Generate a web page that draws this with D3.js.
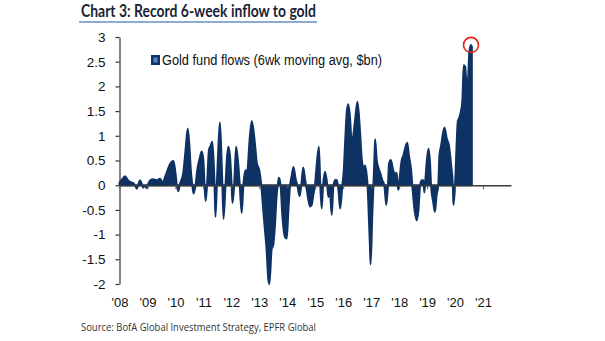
<!DOCTYPE html>
<html>
<head>
<meta charset="utf-8">
<script src="https://cdn.jsdelivr.net/npm/d3@7"></script>
<style>
  html, body { margin: 0; padding: 0; background: #fff; }
  svg { display: block; }
</style>
</head>
<body>
<svg id="chart" width="605" height="341"></svg>
<script>
// Gold fund flows, 6-week moving average ($bn), by decimal year
const years = [
  2008.00, 2008.10, 2008.20, 2008.30, 2008.40, 2008.50, 2008.58, 2008.62, 2008.67, 2008.73,
  2008.80, 2008.85, 2008.90, 2008.97, 2009.03, 2009.10, 2009.20, 2009.32, 2009.45, 2009.55,
  2009.62, 2009.75, 2009.80, 2009.93, 2010.00, 2010.05, 2010.10, 2010.15, 2010.28, 2010.36,
  2010.44, 2010.50, 2010.55, 2010.60, 2010.65, 2010.72, 2010.78, 2010.87, 2010.94, 2011.00,
  2011.04, 2011.08, 2011.13, 2011.20, 2011.26, 2011.32, 2011.38, 2011.40, 2011.43, 2011.48,
  2011.53, 2011.59, 2011.65, 2011.68, 2011.72, 2011.79, 2011.85, 2011.89, 2011.95, 2012.01,
  2012.04, 2012.10, 2012.17, 2012.25, 2012.30, 2012.37, 2012.43, 2012.50, 2012.57, 2012.65,
  2012.73, 2012.85, 2012.91, 2013.00, 2013.07, 2013.14, 2013.20, 2013.26, 2013.32, 2013.36,
  2013.44, 2013.50, 2013.56, 2013.62, 2013.66, 2013.70, 2013.76, 2013.82, 2013.92, 2013.98,
  2014.04, 2014.10, 2014.16, 2014.22, 2014.30, 2014.36, 2014.44, 2014.50, 2014.57, 2014.64,
  2014.70, 2014.81, 2014.87, 2014.93, 2014.99, 2015.05, 2015.13, 2015.18, 2015.23, 2015.28,
  2015.35, 2015.43, 2015.47, 2015.52, 2015.59, 2015.65, 2015.73, 2015.77, 2015.83, 2015.89,
  2015.97, 2016.02, 2016.07, 2016.13, 2016.18, 2016.24, 2016.30, 2016.36, 2016.42, 2016.51,
  2016.60, 2016.66, 2016.72, 2016.78, 2016.84, 2016.87, 2016.92, 2016.96, 2016.98, 2017.04,
  2017.08, 2017.12, 2017.14, 2017.20, 2017.26, 2017.32, 2017.40, 2017.47, 2017.54, 2017.60,
  2017.64, 2017.70, 2017.79, 2017.85, 2017.91, 2017.95, 2017.97, 2018.00, 2018.03, 2018.09,
  2018.15, 2018.29, 2018.35, 2018.43, 2018.47, 2018.55, 2018.63, 2018.69, 2018.75, 2018.81,
  2018.87, 2018.90, 2018.95, 2018.99, 2019.05, 2019.11, 2019.14, 2019.22, 2019.28, 2019.34,
  2019.40, 2019.44, 2019.50, 2019.62, 2019.70, 2019.78, 2019.86, 2019.92, 2019.94, 2020.00,
  2020.04, 2020.10, 2020.14, 2020.21, 2020.26, 2020.31, 2020.36, 2020.40, 2020.43, 2020.47,
  2020.51, 2020.57, 2020.60
];
const flows = [
  0.05, 0.12, 0.18, 0.10, 0.06, 0.04, -0.03, -0.07, 0.00, 0.10,
  0.02, -0.05, 0.00, -0.06, 0.03, 0.10, 0.12, 0.10, 0.13, 0.05,
  0.15, 0.35, 0.42, 0.49, 0.25, 0.00, -0.12, 0.00, 0.25, 0.70,
  1.15, 0.80, 0.30, 0.03, -0.17, 0.00, 0.30, 0.55, 0.68, 0.50,
  0.02, -0.32, 0.00, 0.72, 0.80, 0.88, 0.30, 0.00, -0.64, 0.00,
  0.70, 1.27, 0.50, 0.00, -0.68, 0.00, 0.60, 0.78, 0.60, 0.00,
  -0.36, 0.00, 0.78, 0.40, 0.00, -0.56, 0.00, 0.30, 0.30, 0.90,
  1.30, 0.80, 0.45, 0.30, 0.00, -0.50, -0.90, -1.30, -1.90, -2.00,
  -1.30, -1.20, -0.80, -0.20, 0.00, 0.15, 0.00, -0.58, -1.05, -1.08,
  -0.50, 0.00, 0.20, 0.37, 0.12, 0.00, -0.22, 0.00, 0.36, 0.10,
  -0.10, -0.43, -0.40, -0.20, 0.00, 0.40, 0.78, 0.00, -0.47, 0.00,
  0.27, 0.00, -0.24, -0.10, -0.60, 0.00, 0.11, 0.10, -0.10, -0.47,
  0.00, 0.30, 0.90, 1.50, 1.64, 1.40, 0.90, 1.00, 1.30, 1.69,
  1.10, 0.55, 0.35, 0.40, 0.20, 0.00, -0.70, -1.30, -1.60, -0.60,
  0.00, 0.60, 0.93, 0.50, 0.35, 0.25, 0.10, 0.00, -0.40, 0.00,
  0.44, 0.51, 0.30, 0.22, 0.25, 0.00, -0.09, 0.00, 0.20, 0.50,
  0.60, 0.86, 0.60, 0.30, 0.00, -0.50, -0.71, -0.50, 0.00, 0.10,
  0.10, -0.15, 0.20, 0.50, 0.74, 0.40, 0.00, -0.35, -0.54, -0.20,
  0.00, 0.60, 0.80, 1.17, 0.95, 0.80, 0.40, 0.00, -0.40, 0.00,
  0.60, 1.30, 1.35, 1.50, 1.70, 2.43, 2.40, 2.10, 2.00, 2.20,
  2.70, 2.84, 2.80
];
const yTicks = [-2, -1.5, -1, -0.5, 0, 0.5, 1, 1.5, 2, 2.5, 3];
const xTickYears = [2008, 2009, 2010, 2011, 2012, 2013, 2014, 2015, 2016, 2017, 2018, 2019, 2020, 2021];

const titleText = "Chart 3: Record 6-week inflow to gold";
const legendText = "Gold fund flows (6wk moving avg, $bn)";
const sourceText = "Source: BofA Global Investment Strategy, EPFR Global";

const navy = "#0d3263";
const series = years.map((yr, i) => ({ year: yr, v: flows[i] }));

const svg = d3.select("#chart");

const x = d3.scaleLinear().domain([2008, 2022]).range([119.5, 511]);
const y = d3.scaleLinear().domain([-2, 3]).range([284, 37]);

// Title with underline
svg.append("text")
  .attr("x", 81).attr("y", 17)
  .attr("font-family", "Lato, 'Open Sans', sans-serif")
  .attr("font-weight", "bold")
  .attr("font-size", 16.5)
  .attr("fill", "#1a1f36")
  .attr("textLength", 235)
  .attr("lengthAdjust", "spacingAndGlyphs")
  .text(titleText);
svg.append("line")
  .attr("x1", 79).attr("x2", 317).attr("y1", 22).attr("y2", 22)
  .attr("stroke", "#8eaad0").attr("stroke-width", 2);

// Flow area (stroked in the fill colour so the weekly bars read as a solid mass)
const area = d3.area()
  .x(d => x(d.year))
  .y0(y(0))
  .y1(d => y(d.v))
  .curve(d3.curveMonotoneX);

svg.append("path")
  .datum(series)
  .attr("d", area)
  .attr("fill", navy)
  .attr("stroke", navy)
  .attr("stroke-width", 2)
  .attr("stroke-linejoin", "round");

// Y axis
const yAxis = d3.axisLeft(y)
  .tickValues(yTicks)
  .tickFormat(d => String(d))
  .tickSize(4)
  .tickSizeOuter(0)
  .tickPadding(10);
const gy = svg.append("g").attr("transform", `translate(${x(2008)},0)`).call(yAxis);
gy.select(".domain").attr("stroke", "#333").attr("stroke-width", 1.2);
gy.selectAll(".tick line").attr("stroke", "#333").attr("stroke-width", 1.2);
gy.selectAll("text")
  .attr("font-family", "'Liberation Sans', Arial, sans-serif")
  .attr("font-size", 13.5)
  .attr("fill", "#111");

// X axis along zero, labels at bottom
const xAxis = d3.axisBottom(x)
  .tickValues(xTickYears)
  .tickFormat(d => "'" + String(d).slice(2))
  .tickSize(4)
  .tickSizeOuter(0)
  .tickPadding(109);
const gx = svg.append("g").attr("transform", `translate(0,${y(0)})`).call(xAxis);
gx.select(".domain").attr("stroke", "#3a3a3a").attr("stroke-width", 1.5);
gx.selectAll(".tick line").attr("stroke", "#555").attr("stroke-width", 1);
gx.selectAll("text")
  .attr("font-family", "'Liberation Sans', Arial, sans-serif")
  .attr("font-size", 13)
  .attr("fill", "#111");

// Legend
svg.append("rect")
  .attr("x", 152.2).attr("y", 56.2).attr("width", 6.6).attr("height", 7.6)
  .attr("fill", "#4f81bd").attr("stroke", navy).attr("stroke-width", 2.4);
svg.append("text")
  .attr("x", 162).attr("y", 64.5)
  .attr("font-family", "'Liberation Sans', Arial, sans-serif")
  .attr("font-size", 14)
  .attr("fill", "#111")
  .attr("textLength", 220)
  .attr("lengthAdjust", "spacingAndGlyphs")
  .text(legendText);

// Circle around the record reading
const peak = series.reduce((a, b) => (b.v > a.v ? b : a));
svg.append("circle")
  .attr("cx", x(peak.year)).attr("cy", y(peak.v))
  .attr("r", 7.5)
  .attr("fill", "none")
  .attr("stroke", "#e3241b")
  .attr("stroke-width", 1.6);

// Source note
svg.append("text")
  .attr("x", 81).attr("y", 331)
  .attr("font-family", "'Open Sans', sans-serif")
  .attr("font-size", 11)
  .attr("fill", "#333")
  .attr("textLength", 235)
  .attr("lengthAdjust", "spacingAndGlyphs")
  .text(sourceText);
</script>
</body>
</html>
